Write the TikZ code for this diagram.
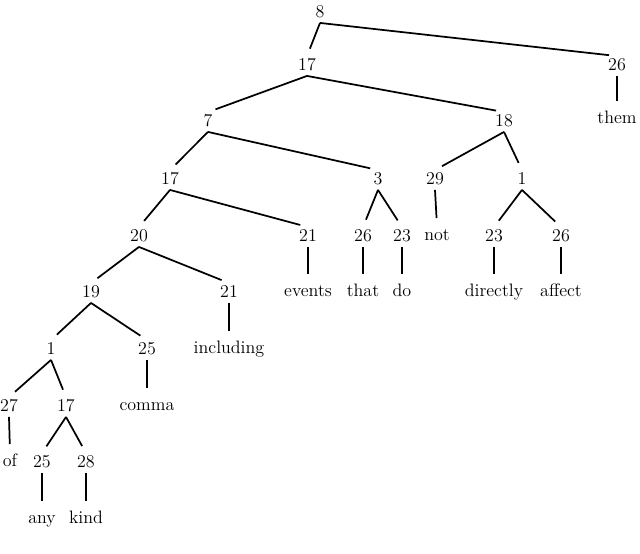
\documentclass[tikz,border=0pt]{standalone}
\begin{document}
\begin{tikzpicture}[x=0.75pt,y=-0.75pt,
  lab/.style={font=\fontsize{13.5}{15}\selectfont,inner sep=1.5pt,text height=9pt,text depth=2.5pt},
  ed/.style={line width=1.3pt,shorten >=6pt}]
\useasboundingbox (0,0) rectangle (640,554);
\node[lab] (n8) at (320,13) {8};
\node[lab] (n17a) at (307,66) {17};
\node[lab] (n26a) at (617,66) {26};
\node[lab] (them) at (617,119) {them};
\node[lab] (n7) at (208,122) {7};
\node[lab] (n18) at (504,122) {18};
\node[lab] (n17b) at (170,180) {17};
\node[lab] (n3) at (378,180) {3};
\node[lab] (n29) at (435,180) {29};
\node[lab] (n1a) at (522,180) {1};
\node[lab] (n20) at (139,237) {20};
\node[lab] (n21a) at (308,237) {21};
\node[lab] (n26b) at (363,237) {26};
\node[lab] (n23a) at (402,237) {23};
\node[lab] (not) at (437,236) {not};
\node[lab] (n23b) at (494,237) {23};
\node[lab] (n26c) at (561,237) {26};
\node[lab] (events) at (308,292) {events};
\node[lab] (that) at (363,292) {that};
\node[lab] (do) at (402,292) {do};
\node[lab] (directly) at (494,292) {directly};
\node[lab] (affect) at (561,292) {affect};
\node[lab] (n19) at (91,293) {19};
\node[lab] (n21b) at (229,293) {21};
\node[lab] (n1b) at (51,350) {1};
\node[lab] (n25a) at (147,350) {25};
\node[lab] (including) at (229,349) {including};
\node[lab] (n27) at (9,407) {27};
\node[lab] (n17c) at (66,407) {17};
\node[lab] (comma) at (147,406) {comma};
\node[lab] (of) at (10,462) {of};
\node[lab] (n25b) at (42,463) {25};
\node[lab] (n28) at (86,463) {28};
\node[lab] (any) at (42,519) {any};
\node[lab] (kind) at (86,519) {kind};
\foreach \a/\b in {n8/n17a,n8/n26a,n26a/them,n17a/n7,n17a/n18,n7/n17b,n7/n3,n18/n29,n18/n1a,
  n17b/n20,n17b/n21a,n3/n26b,n3/n23a,n29/not,n1a/n23b,n1a/n26c,n21a/events,n26b/that,n23a/do,
  n23b/directly,n26c/affect,n20/n19,n20/n21b,n21b/including,n19/n1b,n19/n25a,n25a/comma,
  n1b/n27,n1b/n17c,n27/of,n17c/n25b,n17c/n28,n25b/any,n28/kind}
  \draw[ed] (\a.south) -- (\b.north);
\end{tikzpicture}
\end{document}
